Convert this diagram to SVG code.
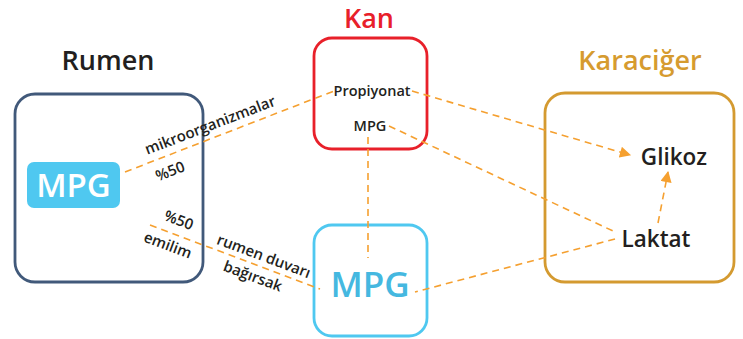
<svg xmlns="http://www.w3.org/2000/svg" width="743" height="339" viewBox="0 0 743 339">
<defs>
<style>
.t{font-family:"Open Sans","Liberation Sans",sans-serif;fill:#231f20;font-weight:600}
.title{font-size:27px;text-anchor:middle}
.lbl{font-size:15px;text-anchor:middle}
.conn{stroke:#f5a030;stroke-width:1.6;stroke-dasharray:7 5;fill:none}
.box{fill:#fff;stroke-width:2.8}
</style>
<marker id="ah" viewBox="0 0 10 10" refX="9" refY="5" markerWidth="7.5" markerHeight="7" orient="auto" markerUnits="strokeWidth">
<path d="M0,0 L10,5 L0,10 Z" fill="#f5a030"/>
</marker>
</defs>
<rect width="743" height="339" fill="#fff"/>

<g id="rumen">
<rect class="box" x="15" y="94" width="188" height="188" rx="20" stroke="#41597a"/>
<text class="t title" x="108" y="70">Rumen</text>
<rect x="27" y="162" width="93" height="46" rx="7" fill="#4fc8f0"/>
<text class="t" x="73.5" y="197" font-size="33" text-anchor="middle" style="fill:#fff">MPG</text>
</g>

<g id="kan">
<rect class="box" x="314" y="38" width="113" height="111" rx="18" stroke="#e8202a"/>
<text class="t title" x="369" y="28" style="fill:#e8202a">Kan</text>
<text class="t" x="372" y="96" font-size="14.5" text-anchor="middle">Propiyonat</text>
<text class="t" x="370" y="131" font-size="14.5" text-anchor="middle">MPG</text>
</g>

<g id="mpg">
<rect class="box" x="314" y="225" width="113" height="111" rx="18" stroke="#4fc8f0"/>
<text class="t" x="370" y="297" font-size="35" text-anchor="middle" style="fill:#45b8e0">MPG</text>
</g>

<g id="karaciger">
<rect class="box" x="545" y="93" width="189" height="189" rx="20" stroke="#d49a30"/>
<text class="t title" x="640" y="70" style="fill:#d69b2f">Karaciğer</text>
<text class="t" x="674" y="165" font-size="22.5" text-anchor="middle">Glikoz</text>
<text class="t" x="656" y="247" font-size="22.5" text-anchor="middle">Laktat</text>
</g>

<g id="connectors">
<line class="conn" x1="125" y1="172" x2="334" y2="91"/>
<line class="conn" x1="412" y1="91" x2="630" y2="155" marker-end="url(#ah)"/>
<line class="conn" x1="389" y1="126" x2="613" y2="231"/>
<line class="conn" x1="368" y1="137" x2="368" y2="258"/>
<line class="conn" x1="615" y1="239" x2="415" y2="292"/>
<line class="conn" x1="658" y1="223" x2="668" y2="172" marker-end="url(#ah)"/>
<line class="conn" x1="150" y1="225" x2="320" y2="289"/>
</g>

<g id="labels">
<text class="t lbl" transform="translate(212,130) rotate(-21)">mikroorganizmalar</text>
<text class="t lbl" transform="translate(172,176) rotate(-21)">%50</text>
<text class="t lbl" transform="translate(177,225) rotate(20.6)">%50</text>
<text class="t lbl" transform="translate(166,250) rotate(20.6)">emilim</text>
<text class="t lbl" transform="translate(262,261) rotate(20.6)">rumen duvarı</text>
<text class="t lbl" transform="translate(251,281) rotate(20.6)">bağırsak</text>
</g>
</svg>
